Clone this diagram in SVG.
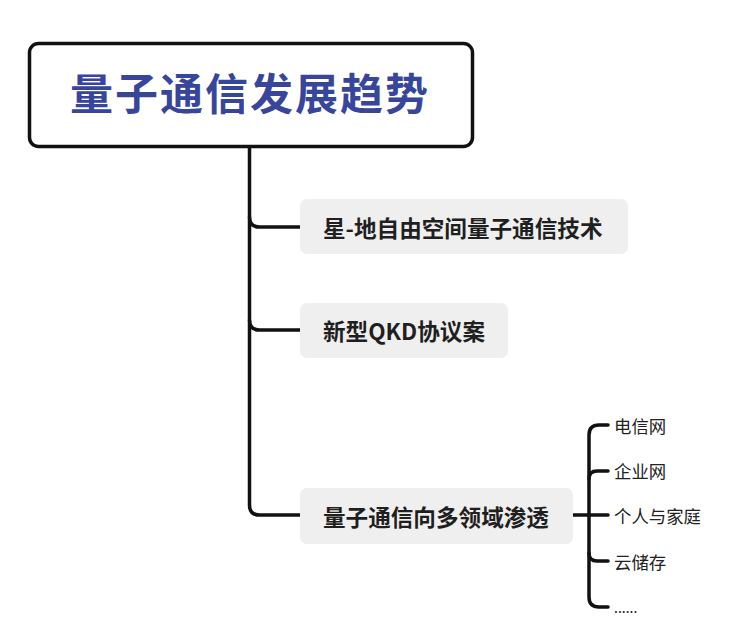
<svg xmlns="http://www.w3.org/2000/svg" width="729" height="641" viewBox="0 0 729 641">
<style>
.title{font-family:"Noto Sans CJK SC","Noto Sans",sans-serif;font-weight:700;font-size:43px;fill:#37469b}
.node{font-family:"Noto Sans CJK SC","Noto Sans",sans-serif;font-weight:700;font-size:22.6px;fill:#1f1f1f}
.leaf{font-family:"Noto Sans CJK SC","Noto Sans",sans-serif;font-weight:400;font-size:17.4px;fill:#222}
.box{fill:#efefef}
.conn{fill:none;stroke:#111;stroke-width:3.5;stroke-linecap:round;stroke-linejoin:round}
</style>
<rect width="729" height="641" fill="#fff"/>
<g id="connectors">
  <path class="conn" d="M249.5 147 V505 Q249.5 515 259.5 515 H300"/>
  <path class="conn" d="M249.5 217 Q249.5 227 259.5 227 H300"/>
  <path class="conn" d="M249.5 320 Q249.5 330 259.5 330 H300"/>
  <path class="conn" d="M573 515 H608"/>
  <path class="conn" d="M608 425 H599 Q589 425 589 435 V597 Q589 607 599 607 H608"/>
  <path class="conn" d="M589 479 Q589 471 597 471 H608"/>
  <path class="conn" d="M589 553 Q589 561 597 561 H608"/>
</g>
<g id="root">
  <rect x="29.5" y="43.5" width="443" height="103" rx="9" fill="#fff" stroke="#111" stroke-width="3.5"/>
  <text class="title" x="250" y="91" text-anchor="middle" dominant-baseline="central" letter-spacing="2">量子通信发展趋势</text>
</g>
<g id="node1">
  <rect class="box" x="300" y="199" width="328" height="55" rx="7"/>
  <text class="node" x="323" y="227" dominant-baseline="central">星-地自由空间量子通信技术</text>
</g>
<g id="node2">
  <rect class="box" x="300" y="303" width="208" height="55" rx="7"/>
  <text class="node" x="323" y="330" dominant-baseline="central">新型QKD协议案</text>
</g>
<g id="node3">
  <rect class="box" x="300" y="488" width="273" height="56" rx="7"/>
  <text class="node" x="323" y="516" dominant-baseline="central">量子通信向多领域渗透</text>
</g>
<g id="leaf1"><text class="leaf" x="614" y="425" dominant-baseline="central">电信网</text></g>
<g id="leaf2"><text class="leaf" x="614" y="470" dominant-baseline="central">企业网</text></g>
<g id="leaf3"><text class="leaf" x="614" y="515" dominant-baseline="central">个人与家庭</text></g>
<g id="leaf4"><text class="leaf" x="614" y="561" dominant-baseline="central">云储存</text></g>
<g id="leaf5"><text class="leaf" x="614" y="607" dominant-baseline="central" style="font-size:14px">......</text></g>
</svg>
